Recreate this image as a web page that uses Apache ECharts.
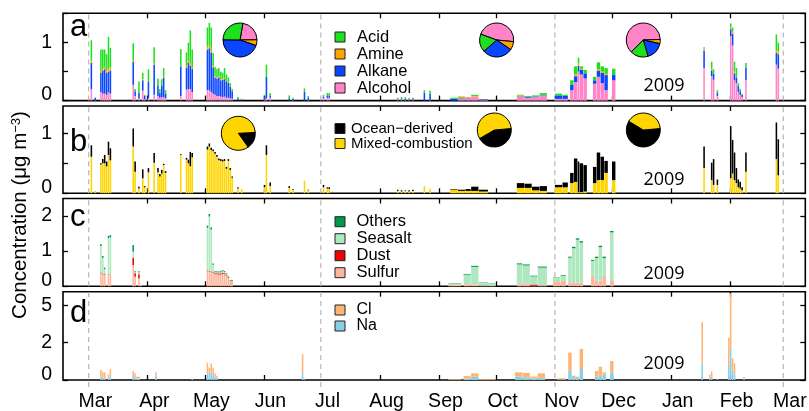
<!DOCTYPE html>
<html><head><meta charset="utf-8">
<script src="https://cdn.jsdelivr.net/npm/echarts@6/dist/echarts.min.js"></script>
<style>html,body{margin:0;padding:0;background:#fff}#c{width:809px;height:411px}</style>
</head><body><div id="c"></div>
<script>
// ===================== DATA =====================
const monthStarts = ['2008-03-01','2008-04-01','2008-05-01','2008-06-01','2008-07-01','2008-08-01','2008-09-01','2008-10-01','2008-11-01','2008-12-01','2009-01-01','2009-02-01','2009-03-01'];
const monthLabels = ['Mar','Apr','May','Jun','Jul','Aug','Sep','Oct','Nov','Dec','Jan','Feb','Mar'];
const dashedMonths = ['2008-03-01','2008-07-01','2008-11-01','2009-03-01'];
const yearLabel = '2009';

// panels a & b share sampling
const abDates = [
'2008-03-02','2008-03-04','2008-03-07','2008-03-08','2008-03-09','2008-03-10','2008-03-11','2008-03-12',
'2008-03-24','2008-03-25','2008-03-27','2008-03-29','2008-03-30','2008-04-01','2008-04-04','2008-04-06','2008-04-07','2008-04-08','2008-04-09','2008-04-10',
'2008-04-18','2008-04-21','2008-04-22','2008-04-23','2008-04-24',
'2008-05-02','2008-05-03','2008-05-04','2008-05-05','2008-05-06','2008-05-07','2008-05-08','2008-05-09','2008-05-10','2008-05-11','2008-05-12','2008-05-13','2008-05-14','2008-05-15',
'2008-05-18','2008-05-20',
'2008-06-01','2008-06-02','2008-06-04','2008-06-14','2008-06-16','2008-06-22','2008-06-24',
'2008-07-02','2008-07-04','2008-07-05',
'2008-08-10','2008-08-12','2008-08-14','2008-08-16','2008-08-18','2008-08-24','2008-08-27',
'2008-09-07','2008-09-11','2008-09-15','2008-09-18','2008-09-22',
'2008-10-12','2008-10-16','2008-10-20','2008-10-24',
'2008-11-01','2008-11-05','2008-11-09','2008-11-11','2008-11-13','2008-11-14','2008-11-16',
'2008-11-21','2008-11-23','2008-11-25','2008-11-27','2008-12-01',
'2009-01-18','2009-01-22','2009-01-23','2009-01-25',
'2009-02-01','2009-02-02','2009-02-03','2009-02-04','2009-02-05','2009-02-06','2009-02-07','2009-02-09',
'2009-02-25','2009-02-26'];
const abDays = [1,1,1,1,1,1,1,1, 1,1,1,1,1,1,1,1,1,1,1,1, 1,1,1,1,1, 1,1,1,1,1,1,1,1,1,1,1,1,1,1, 1,1, 1,1,1,1,1,1,1, 1,1,1, 1,1,1,1,1,1,1,
 4,4,3,4,5, 4,4,4,4, 4,3,2,2,1,2,2, 2,2,2,2,2, 1,1,1,1, 1,1,1,1,1,1,1,1, 1,1];

// panel a (µg m-3)
const acid = [.35,0,.37,.32,.30,.28,.55,.34, .29,.04,.20,.11,.02,.22,.27,.13,.07,.11,.15,.06, .30,.22,.30,.56,.30,
 .33,.39,.38,.22,.16,.15,.14,.13,.10,.17,.11,.08,.05,.04, .02,.01, .02,.21,.04,.05,.02,.06,.03, .03,.04,.04,
 .02,.02,.03,.02,.01,.04,.05, .02,.01,0,.02,0, .01,.01,.02,.03, .03,.02,.08,.14,.10,.04,.06, .06,.12,.08,.10,.10,
 .02,.12,.08,.05, .07,.07,.17,.16,.05,.04,.02,.08, .27,.15];
const amine = [.04,0,.03,.04,.04,.04,.05,.05, .03,0,0,.02,0,0,.03,0,0,0,.02,0, 0,.04,.05,.05,.03,
 .05,.05,.05,.03,.02,.02,.02,.02,.02,.02,.01,.01,.01,0, 0,0, 0,0,0,0,0,0,0, 0,0,0,
 0,0,0,0,0,0,0, 0,.02,.01,.01,0, .02,0,0,0, 0,0,0,.03,.04,.02,0, 0,.03,.03,.02,0,
 .04,.03,0,0, .03,.04,.03,0,0,0,0,0, .05,.05];
const alkane = [.45,.04,.33,.40,.42,.38,.36,.40, .40,.08,.10,.18,.06,.27,.52,.17,.08,.20,.33,.08, .51,.38,.45,.40,.40,
 .70,.72,.68,.45,.30,.30,.32,.28,.30,.30,.28,.26,.20,.13, .04,.02, .06,.37,.04,.04,.02,.15,.04, .03,.04,.04,
 .01,.02,.02,.01,.02,.14,.11, .03,.01,.01,0,.01, .01,.02,.01,.01, .06,.05,.09,.10,.10,.08,.09, .06,.10,.18,.26,.10,
 .30,.10,.10,.05, .12,.20,.12,.10,.10,.06,.04,.22, .20,.25];
const alcohol = [.20,.01,.15,.12,.12,.10,.14,.12, .27,.08,.03,.17,.02,.05,.10,.08,.05,.06,.06,.04, .08,.19,.20,.20,.15,
 .18,.18,.15,.12,.10,.08,.08,.07,.06,.07,.05,.05,.04,.03, 0,0, .02,.04,.05,0,.01,0,.01, .04,.05,.05,
 .02,.02,.01,.02,.02,0,.01, 0,.03,.04,.07,.01, .06,.05,.06,.09, .03,.03,.18,.32,.50,.45,.38, .29,.41,.30,.18,.35,
 .56,.42,.36,.08, 1.11,.95,.35,.30,.15,.10,.06,.35, .62,.55];

// panel b
const mixedComb = [.61,.04,.48,.50,.50,.45,.64,.55, .78,.36,.08,.25,.10,.35,.51,.35,.28,.33,.47,.34, .64,.56,.50,.45,.60,
 .73,.78,.72,.70,.66,.61,.55,.54,.53,.54,.41,.54,.39,.26, .08,.07, .10,.64,.12,.09,.06,.21,.05, .10,.08,.07,
 .04,.03,.04,.03,.04,.12,.08, .06,.04,.04,.04,.03, .09,.09,.05,.04, .10,.10,.17,.19,.02,.02,.03, .17,.22,.22,.34,.22,
 .42,.22,.14,.14, .25,.33,.22,.17,.10,.08,.05,.36, .57,.30];
const oceanDer = [.19,0,.02,.07,.14,.08,.22,.20, .30,.17,.03,.15,.02,.07,.16,.07,.04,.06,.02,.03, .01,.03,.06,.24,.07,
 .05,.05,.04,.03,.03,.03,.03,.03,.03,.03,.03,.03,.03,.02, .02,0, .04,.16,.06,.03,.01,0,.01, .04,.02,.03,
 .02,.02,.01,.02,.02,0,0, .01,.02,.03,.07,.03, .08,.07,.06,.08, .04,.08,.17,.39,.51,.48,.44, .27,.46,.39,.20,.31,
 .36,.29,.43,.09, .87,.56,.46,.25,.13,.11,.05,.32, .61,.60];

// panel c
const cDates = ['2008-03-07','2008-03-08','2008-03-09','2008-03-11','2008-03-12',
 '2008-03-24','2008-03-25','2008-03-27','2008-03-28',
 '2008-05-02','2008-05-03','2008-05-04','2008-05-05',
 '2008-05-06','2008-05-07','2008-05-08','2008-05-09','2008-05-10','2008-05-11','2008-05-12','2008-05-13',
 '2008-05-14',
 '2008-09-06','2008-09-14','2008-09-18','2008-09-22','2008-09-27',
 '2008-10-12','2008-10-15','2008-10-19','2008-10-23',
 '2008-10-31','2008-11-04',
 '2008-11-08','2008-11-10','2008-11-12','2008-11-14',
 '2008-11-20','2008-11-22','2008-11-24','2008-11-26',
 '2008-11-30'];
const cDays = [1,1,1,1,1, 1,1,1,1, 1,1,1,1, 1,1,1,1,1,1,1,1, 2, 7,4,4,5,4, 3,4,4,5, 4,3, 2,2,2,2, 2,2,2,2, 2];
const sulfur = [.37,.34,.32,.33,.32, .60,.27,.22,.04, .43,.42,.40,.38, .34,.34,.33,.34,.35,.34,.30,.24, .16,
 .04,.06,.05,.02,.01, .06,.08,.02,.03, .12,.15, .11,.11,.11,.11, .30,.16,.16,.30, .15];
const dust = [.02,.02,.02,.01,.01, .21,.10,.12,0, .02,.02,.02,.02, .03,.03,.03,.03,.03,.03,.03,.02, 0,
 0,0,0,0,0, 0,0,.03,0, 0,0, 0,0,0,0, 0,0,0,0, 0];
const seasalt = [.75,.45,.15,1.03,1.06, .17,.03,.05,0, 1.21,1.54,1.19,.21, .03,.03,.03,.03,.05,.03,.02,0, 0,
 .04,.27,.50,.08,.06, .56,.51,.23,.50, .12,.15, .70,.97,1.21,1.13, .42,.64,.95,.50, 1.38];
const others = [.05,.05,.04,.06,.06, .19,.03,.04,0, .06,.07,.06,.04, .03,.03,.03,.03,.03,.03,.02,.02, .02,
 .01,.02,.03,.01,.01, .03,.03,.02,.03, .01,.02, .03,.04,.04,.04, .03,.04,.04,.04, .04];

// panel d
const dDates = ['2008-03-07','2008-03-08','2008-03-09','2008-03-11','2008-03-12',
 '2008-03-24','2008-03-25','2008-03-26','2008-04-05','2008-04-24',
 '2008-05-02','2008-05-03','2008-05-04','2008-05-05','2008-05-06','2008-05-07',
 '2008-06-21','2008-06-22',
 '2008-09-06','2008-09-14','2008-09-18','2008-09-22',
 '2008-10-11','2008-10-15','2008-10-19','2008-10-23',
 '2008-11-02','2008-11-08','2008-11-10','2008-11-12','2008-11-14',
 '2008-11-22','2008-11-24','2008-11-26','2008-11-30',
 '2009-01-17','2009-01-21','2009-01-22','2009-01-25','2009-01-31','2009-02-01','2009-02-02','2009-02-03','2009-02-08'];
const dDays = [1,1,1,1,1, 1,1,2,1,1, 1,1,1,1,1,1, 1,1, 7,4,4,9, 4,4,4,4, 5,2,2,2,2, 2,2,2,2, 1,1,1,1,1,1,1,1,1];
const na = [.18,.14,.12,.10,.20, .22,.15,.08,.23,.05, .36,.40,.36,.30,.18,.12, .41,.03, .02,.07,.18,.01,
 .18,.14,.08,.12, .03,.48,.15,.10,.59, .18,.23,.30,.41, .89,.10,.18,.03,.80,1.73,.50,.30,.12];
const cl = [.36,.27,.29,.20,.39, .26,.21,.10,.18,0, .57,.26,.53,.36,.18,.11, .97,.02, .03,.14,.18,.04,
 .23,.24,.10,.24, .06,.99,.08,.08,1.07, .30,.48,.11,.61, 2.75,.20,.27,.02,1.60,4.24,.66,.59,.06];

// pie fractions (%)
const pieAlcohol = [22, 46, 62], pieAmine = [5.5, 8, 4], pieAlkane = [45, 29, 17], pieAcid = [27.5, 17, 17];
const pieOcean = [16, 43, 60], pieMixed = [84, 57, 40];

// y-axis ticks / labels
const aTicks = [0, 0.5, 1, 1.5], aLabels = [0, 1];
const bTicks = [0, 0.5, 1], bLabels = [0, 1];
const cTicks = [0, 1, 2], cLabels = [0, 1, 2];
const dTicks = [0, 2, 5], dLabels = [0, 2, 5];

// ===================== BUILD =====================
const FONT = '"Liberation Sans", Arial, sans-serif';
const T0 = Date.UTC(2008, 2, 1);
function dayOf(s){ const p = s.split('-').map(Number); return (Date.UTC(p[0], p[1]-1, p[2]) - T0) / 86400000; }
// panel d uses a compressed scale above 2
function tfD(v){ return v <= 2 ? v/2 : 1 + (v-2)/3; }
const ident = v => v;

const XMIN = -13.5, XMAX = 376.6;
const tickDays = monthStarts.filter(m => dashedMonths.indexOf(m) < 0).map(dayOf);
const labelDays = monthStarts.map(m => dayOf(m) + 3.5);
const dashDays = dashedMonths.map(dayOf);

const panels = [
  {top: 13.3, h: 87.3, max: 1.505, ticks: aTicks, labels: aLabels, tf: ident},
  {top: 106, h: 87.3, max: 1.455, ticks: bTicks, labels: bLabels, tf: ident},
  {top: 198.5, h: 87.8, max: 2.49, ticks: cTicks, labels: cLabels, tf: ident},
  {top: 291.7, h: 88.3, max: 2.367, ticks: dTicks, labels: dLabels, tf: tfD}
];

function renderBar(params, api){
  const a = api.coord([api.value(0), api.value(2)]);
  const b = api.coord([api.value(1), api.value(3)]);
  const h = a[1] - b[1];
  if (!(h > 0.05)) return null;
  const w = Math.max(b[0] - a[0] - 0.35, 0.9);
  return {type: 'rect', shape: {x: a[0], y: b[1], width: w, height: h}, style: {fill: api.visual('color')}};
}

function stacked(gi, dates, durs, comps, tf){
  const base = dates.map(() => 0);
  return comps.map(c => {
    const data = dates.map((s, i) => {
      const x0 = dayOf(s), x1 = x0 + durs[i];
      const b0 = base[i], t = b0 + c.vals[i];
      base[i] = t;
      return [x0, x1, tf(b0), tf(t)];
    });
    return {type: 'custom', name: c.name, xAxisIndex: gi*2, yAxisIndex: gi*2, data: data,
      renderItem: renderBar, itemStyle: {color: c.color}, encode: {x: [0, 1], y: [2, 3]}, z: 3, silent: true};
  });
}

function dashSeries(gi, ymax, ext){
  return {type: 'custom', xAxisIndex: gi*2, yAxisIndex: gi*2, silent: true, z: 1, clip: false,
    data: dashDays.map(d => [d, 0, ymax]), encode: {x: 0, y: [1, 2]},
    renderItem: (params, api) => {
      const p0 = api.coord([api.value(0), api.value(1)]);
      const p1 = api.coord([api.value(0), api.value(2)]);
      return {type: 'line', shape: {x1: p0[0], y1: p0[1] + ext, x2: p0[0], y2: p1[1]},
        style: {stroke: '#b5b5b5', lineWidth: 1.2, lineDash: [5, 4]}};
    }};
}

function pie(cx, cy, start, vals, colors){
  return {type: 'pie', center: [cx, cy], radius: 17, startAngle: start, clockwise: true, silent: true,
    label: {show: false}, labelLine: {show: false}, emphasis: {disabled: true}, z: 6,
    itemStyle: {borderColor: '#000', borderWidth: 1},
    data: vals.map((v, i) => ({value: v, name: 'pie' + i, itemStyle: {color: colors[i]}}))};
}

const C = {acid: '#1fe01f', amine: '#ffa500', alkane: '#0a45ff', alcohol: '#ff85c8',
  ocean: '#000000', mixed: '#ffd500', others: '#00994c', seasalt: '#aee8be', dust: '#f00000', sulfur: '#ffb49c',
  cl: '#ffb473', na: '#88cfe6'};

const series = [];
panels.forEach((p, gi) => series.push(dashSeries(gi, p.max, gi === 3 ? 7 : 0)));
series.push(...stacked(0, abDates, abDays, [
  {name: 'Alcohol', color: C.alcohol, vals: alcohol},
  {name: 'Alkane', color: C.alkane, vals: alkane},
  {name: 'Amine', color: C.amine, vals: amine},
  {name: 'Acid', color: C.acid, vals: acid}], ident));
series.push(...stacked(1, abDates, abDays, [
  {name: 'Mixed-combustion', color: C.mixed, vals: mixedComb},
  {name: 'Ocean\u2212derived', color: C.ocean, vals: oceanDer}], ident));
series.push(...stacked(2, cDates, cDays, [
  {name: 'Sulfur', color: C.sulfur, vals: sulfur},
  {name: 'Dust', color: C.dust, vals: dust},
  {name: 'Seasalt', color: C.seasalt, vals: seasalt},
  {name: 'Others', color: C.others, vals: others}], ident));
series.push(...stacked(3, dDates, dDays, [
  {name: 'Na', color: C.na, vals: na},
  {name: 'Cl', color: C.cl, vals: cl}], tfD));

const aCenters = [[240, 40], [496.7, 40], [643.3, 40]], aStarts = [80, 160, 225];
const bCenters = [[238.3, 133.3], [494.3, 130], [643.3, 130]], bStarts = [3, 5, 5];
for (let k = 0; k < 3; k++){
  series.push(pie(aCenters[k][0], aCenters[k][1], aStarts[k],
    [pieAlcohol[k], pieAmine[k], pieAlkane[k], pieAcid[k]], [C.alcohol, C.amine, C.alkane, C.acid]));
  series.push(pie(bCenters[k][0], bCenters[k][1], bStarts[k],
    [pieOcean[k], pieMixed[k]], [C.ocean, C.mixed]));
}

const grids = [], xAxes = [], yAxes = [];
panels.forEach((p, gi) => {
  grids.push({left: 63, right: 3.7, top: p.top, height: p.h, show: true, borderColor: '#000', borderWidth: 1.6,
    backgroundColor: 'rgba(0,0,0,0)', containLabel: false, outerBoundsMode: 'none'});
  ['bottom', 'top'].forEach(pos => {
    const showLab = gi === 3 && pos === 'bottom';
    xAxes.push({type: 'value', gridIndex: gi, position: pos, min: XMIN, max: XMAX,
      axisLine: {show: false, onZero: false}, splitLine: {show: false},
      axisTick: {show: true, inside: true, length: 5, lineStyle: {color: '#000', width: 1.3}, customValues: tickDays},
      axisLabel: showLab ? {show: true, customValues: labelDays, margin: 12, color: '#000', fontSize: 19.5, fontFamily: FONT,
        formatter: v => { let best = 0; labelDays.forEach((d, i) => { if (Math.abs(d - v) < Math.abs(labelDays[best] - v)) best = i; }); return monthLabels[best]; }}
        : {show: false}});
  });
  ['left', 'right'].forEach(pos => {
    const tv = p.ticks.map(p.tf), lv = p.labels.map(p.tf);
    yAxes.push({type: 'value', gridIndex: gi, position: pos, min: 0, max: p.max,
      axisLine: {show: false, onZero: false}, splitLine: {show: false},
      axisTick: {show: true, inside: true, length: 5, lineStyle: {color: '#000', width: 1.3}, customValues: tv},
      axisLabel: pos === 'left' ? {show: true, customValues: lv, margin: 11, color: '#000', fontSize: 19.5, fontFamily: FONT,
        formatter: v => { let best = 0; lv.forEach((d, i) => { if (Math.abs(d - v) < Math.abs(lv[best] - v)) best = i; });
          const s = String(p.labels[best]); return p.labels[best] === 0 ? '{z|' + s + '}' : s; },
        rich: {z: {fontSize: 19.5, fontFamily: FONT, color: '#000', padding: [0, 0, 11, 0]}}}
        : {show: false}});
  });
});

function legend(names, top, fs, lh, pad){
  return {orient: 'vertical', left: 334.5, top: top, padding: 0, itemGap: 0, itemWidth: 10, itemHeight: 10,
    icon: 'rect', selectedMode: false, data: names,
    itemStyle: {borderColor: '#222', borderWidth: 1},
    textStyle: {fontFamily: FONT, fontSize: fs, lineHeight: lh, color: '#000', padding: [0, 0, 0, pad]}};
}

const graphics = [];
[['a', 27.5], ['b', 142], ['c', 217], ['d', 313.5]].forEach(([t, y]) =>
  graphics.push({type: 'text', x: 70, y: y, silent: true, z: 10,
    style: {text: t, fontSize: 31, fontFamily: FONT, fill: '#000', align: 'left', verticalAlign: 'middle'}}));
[86.3, 180.3, 274.3, 364.3].forEach(y =>
  graphics.push({type: 'text', x: 664, y: y, silent: true, z: 10,
    style: {text: yearLabel, fontSize: 18, fontFamily: '"Open Sans", sans-serif', fill: '#000', align: 'center', verticalAlign: 'middle'}}));
graphics.push({type: 'text', x: 20, y: 215, rotation: Math.PI / 2, silent: true, z: 10,
  style: {text: '{n|Concentration (\u03bcg m}{s|\u22123}{n|)}', align: 'center', verticalAlign: 'middle',
    rich: {n: {fontSize: 20.5, fontFamily: FONT, fill: '#000'},
           s: {fontSize: 13, fontFamily: FONT, fill: '#000', verticalAlign: 'top'}}}});

const chart = echarts.init(document.getElementById('c'), null, {renderer: 'canvas', width: 809, height: 411});
chart.setOption({
  animation: false,
  backgroundColor: '#fff',
  grid: grids, xAxis: xAxes, yAxis: yAxes,
  legend: [
    legend(['Acid', 'Amine', 'Alkane', 'Alcohol'], 28.5, 16.5, 15, 7),
    legend(['Ocean\u2212derived', 'Mixed-combustion'], 121, 15, 14.4, 1),
    legend(['Others', 'Seasalt', 'Dust', 'Sulfur'], 213.2, 16.5, 15.1, 6.5),
    legend(['Cl', 'Na'], 302, 16, 15.7, 6.5)
  ],
  series: series,
  graphic: graphics
});
</script>
</body></html>
